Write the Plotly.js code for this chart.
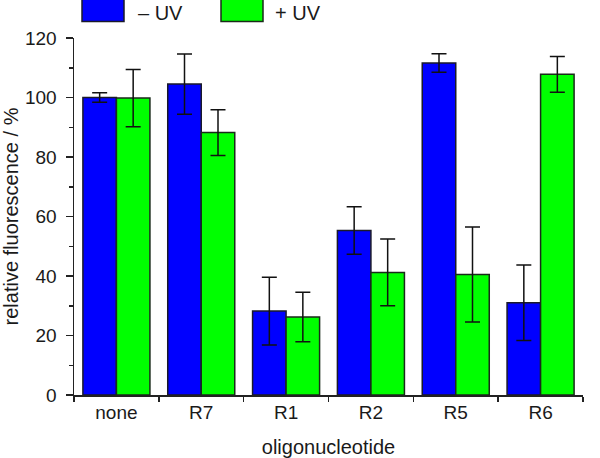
<!DOCTYPE html>
<html>
<head>
<meta charset="utf-8">
<script src="https://cdn.plot.ly/plotly-3.0.1.min.js"></script>
<style>html,body{margin:0;padding:0;background:#fff;}#chart{width:600px;height:458px;}</style>
</head>
<body>
<div id="chart"></div>
<script>
var categories = ['none', 'R7', 'R1', 'R2', 'R5', 'R6'];
var minusUV = [100.0, 104.5, 28.2, 55.3, 111.6, 31.0];
var minusUVErr = [1.6, 10.1, 11.4, 8.0, 3.1, 12.7];
var plusUV = [99.8, 88.2, 26.2, 41.2, 40.5, 107.8];
var plusUVErr = [9.6, 7.7, 8.3, 11.2, 16.0, 6.0];
var seriesNames = ['\u2013 UV', '+ UV'];
var yTickValues = [0, 20, 40, 60, 80, 100, 120];

var FONT = 'Liberation Sans, Arial, sans-serif';
var TXT = '#1a1a1a';
var L = 74, R = 17, T = 37.5, B = 62.5, W = 600, H = 458;
var pw = W - L - R, ph = H - T - B;
function px(x) { return (x - L) / pw; }
function py(y) { return (H - B - y) / ph; }

var errStyle = {type: 'data', visible: true, color: '#111', thickness: 1.5, width: 7.5};

var traces = [
  {type: 'bar', name: seriesNames[0], x: categories, y: minusUV,
   error_y: Object.assign({array: minusUVErr}, errStyle),
   marker: {color: '#0000ff', line: {color: '#1a1a2a', width: 1.5}}},
  {type: 'bar', name: seriesNames[1], x: categories, y: plusUV,
   error_y: Object.assign({array: plusUVErr}, errStyle),
   marker: {color: '#00ff00', line: {color: '#1a2a1a', width: 1.5}}}
];

var legendBoxes = [
  {x0: 82, x1: 124, fill: '#0000ff', line: '#1a1a2a', tx: 136},
  {x0: 221, x1: 263, fill: '#00ff00', line: '#1a2a1a', tx: 273}
];
var shapes = legendBoxes.map(function (b) {
  return {type: 'rect', xref: 'paper', yref: 'paper',
    x0: px(b.x0), x1: px(b.x1), y0: py(21), y1: py(-2),
    fillcolor: b.fill, line: {color: b.line, width: 1.5}};
});
var annotations = legendBoxes.map(function (b, i) {
  return {xref: 'paper', yref: 'paper', x: px(b.tx), y: py(12),
    xanchor: 'left', yanchor: 'middle', showarrow: false,
    text: seriesNames[i], font: {family: FONT, size: 20, color: TXT}};
});

var layout = {
  width: W, height: H,
  margin: {l: L, r: R, t: T, b: B, pad: 0},
  paper_bgcolor: '#fff', plot_bgcolor: '#fff',
  barmode: 'group', bargap: 0.21, bargroupgap: 0,
  showlegend: false,
  font: {family: FONT, size: 19, color: TXT},
  xaxis: {
    type: 'category', range: [-0.5, 5.5], autorange: false,
    showline: true, linecolor: '#222', linewidth: 1.5,
    ticks: 'outside', ticklen: 5, tickwidth: 1.5, tickcolor: '#222',
    tickson: 'boundaries', showgrid: false, zeroline: false,
    tickfont: {family: FONT, size: 19, color: TXT},
    title: {text: 'oligonucleotide', font: {family: FONT, size: 20, color: TXT}, standoff: 17},
    automargin: false
  },
  xaxis2: {
    type: 'category', overlaying: 'x', anchor: 'y', side: 'bottom',
    categoryorder: 'array', categoryarray: categories,
    range: [-0.5, 5.5], autorange: false,
    showline: false, showgrid: false, zeroline: false, showticklabels: false,
    ticks: 'inside', ticklen: 4, tickwidth: 1.5, tickcolor: '#222',
    tickson: 'boundaries'
  },
  yaxis: {
    range: [0, 120], autorange: false,
    tickvals: yTickValues,
    showline: true, linecolor: '#222', linewidth: 1.5,
    ticks: 'outside', ticklen: 7, tickwidth: 1.5, tickcolor: '#222',
    minor: {dtick: 10, tick0: 0, ticks: 'outside', ticklen: 4, tickwidth: 1.5, tickcolor: '#222', showgrid: false},
    showgrid: false, zeroline: false,
    ticklabelstandoff: 5,
    tickfont: {family: FONT, size: 19, color: TXT},
    title: {text: 'relative fluorescence / %', font: {family: FONT, size: 20, color: TXT}, standoff: 4},
    automargin: false
  },
  shapes: shapes,
  annotations: annotations
};

Plotly.newPlot('chart', traces, layout, {staticPlot: true, displayModeBar: false});
</script>
</body>
</html>
